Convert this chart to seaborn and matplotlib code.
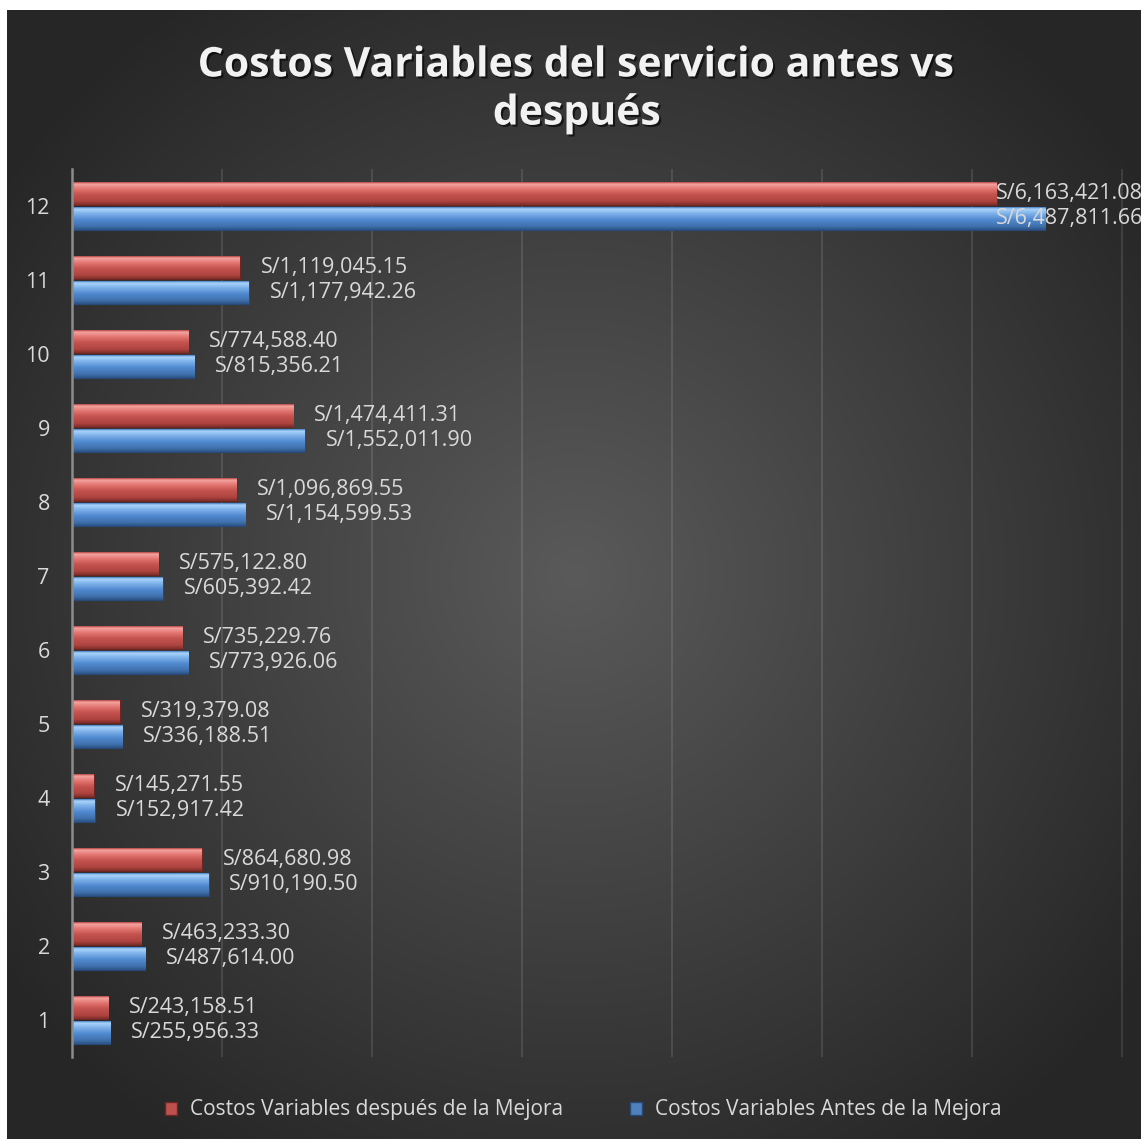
import numpy as np
import pandas as pd
import matplotlib
matplotlib.use("Agg")
import matplotlib.pyplot as plt
import matplotlib.patheffects as pe
from matplotlib.patches import Patch
from matplotlib.colors import LinearSegmentedColormap
import seaborn as sns

# ---------------- data ----------------
categories = ["1", "2", "3", "4", "5", "6", "7", "8", "9", "10", "11", "12"]
despues = [243158.51, 463233.30, 864680.98, 145271.55, 319379.08, 735229.76,
           575122.80, 1096869.55, 1474411.31, 774588.40, 1119045.15, 6163421.08]
antes = [255956.33, 487614.00, 910190.50, 152917.42, 336188.51, 773926.06,
         605392.42, 1154599.53, 1552011.90, 815356.21, 1177942.26, 6487811.66]
series_names = ["Costos Variables después de la Mejora",
                "Costos Variables Antes de la Mejora"]
title = "Costos Variables del servicio antes vs\ndespués"

RED = "#c0504d"
BLUE = "#4f81bd"
TXT = "#d9d9d9"

plt.rcParams['font.family'] = ['Open Sans', 'DejaVu Sans']

W, H = 1141, 1139
fig = plt.figure(figsize=(W / 100, H / 100), dpi=100)
fig.patch.set_facecolor('white')

# ---------------- radial background ----------------
bg_left, bg_top = 7, 10
bw, bh = W - bg_left, H - bg_top
bg_ax = fig.add_axes([bg_left / W, 0, bw / W, bh / H])
bg_ax.set_axis_off()
yy, xx = np.mgrid[0:bh, 0:bw]
r = np.hypot(xx - bw / 2, yy - bh / 2)
t = np.clip(1 - r / 700, 0, 1)
edge = np.array([0x26] * 3) / 255
center = np.array([0x5a] * 3) / 255
img = edge + (center - edge) * t[..., None]
bg_ax.imshow(img, aspect='auto', interpolation='bilinear')

# ---------------- main axes ----------------
ax = fig.add_axes([72 / W, 82 / H, (W - 72) / W, (1057 - 169) / H])
ax.patch.set_alpha(0)

df = pd.DataFrame({
    "cat": categories * 2,
    "value": despues + antes,
    "serie": [series_names[0]] * len(categories) + [series_names[1]] * len(categories),
})
order = categories[::-1]
sns.barplot(data=df, y="cat", x="value", hue="serie", order=order,
            hue_order=series_names, palette=[RED, BLUE], orient="h",
            width=0.66, gap=0.06, saturation=1, errorbar=None,
            legend=False, ax=ax)

red_cmap = LinearSegmentedColormap.from_list(
    "r", [(0, "#b54744"), (0.08, "#f5a3a0"), (0.3, "#e27470"),
          (0.55, "#c4524e"), (0.85, "#ad433f"), (1, "#7e2d2a")])
blue_cmap = LinearSegmentedColormap.from_list(
    "b", [(0, "#4a7fc0"), (0.08, "#aad3fb"), (0.3, "#79aee8"),
          (0.55, "#5189d0"), (0.85, "#3f70ad"), (1, "#2c5283")])
grad = np.linspace(0, 1, 64).reshape(-1, 1)
for cont, cmap, ec in zip(ax.containers, [red_cmap, blue_cmap], ["#6e2624", "#274a78"]):
    for p in cont.patches:
        x0, y0, w, h = p.get_x(), p.get_y(), p.get_width(), p.get_height()
        p.set_edgecolor(ec)
        p.set_linewidth(0.8)
        im = ax.imshow(grad, cmap=cmap, extent=(x0, x0 + w, y0 + h, y0),
                       origin='upper', aspect='auto', zorder=p.get_zorder() + 0.1,
                       interpolation='bilinear')
        im.set_clip_path(p)

ax.set_xlim(0, (W - 72) / 150 * 1e6)
ax.set_ylim(len(categories) - 0.5, -0.5)
ax.set_xticks(np.arange(1e6, 7.5e6, 1e6))
ax.set_xticklabels([])
ax.tick_params(axis='x', length=0)
ax.tick_params(axis='y', length=0, pad=16, labelsize=15.5, labelcolor=TXT)
ax.xaxis.grid(True, color='white', alpha=0.11, lw=1.5)
ax.yaxis.grid(False)
ax.set_axisbelow(True)
ax.set_xlabel("")
ax.set_ylabel("")
for s in ["top", "right", "bottom"]:
    ax.spines[s].set_visible(False)
ax.spines["left"].set_color("#8c8c8c")
ax.spines["left"].set_linewidth(1.8)
ax.spines["left"].set_zorder(5)

labels = []
for cont in ax.containers:
    labels += ax.bar_label(cont, fmt=lambda v: f"S/{v:,.2f}", padding=15,
                           color=TXT, fontsize=15.5)

fig.canvas.draw()
for t_ in labels:
    bb = t_.get_window_extent()
    if bb.x1 > W + 2:
        dx = (bb.x1 - (W + 2)) * 72 / 100
        x_, y_ = t_.xyann
        t_.xyann = (x_ - dx, y_)

# ---------------- title ----------------
fig.text(577 / W, 1 - 90 / H, title, ha='center', va='center', fontsize=29.5,
         fontweight='bold', color='#f2f2f2', linespacing=1.23,
         path_effects=[pe.SimplePatchShadow(offset=(1.5, -1.5), shadow_rgbFace='black', alpha=0.6),
                       pe.Normal()])

# ---------------- legend ----------------
handles = [Patch(facecolor=RED, edgecolor="#6e2624"), Patch(facecolor=BLUE, edgecolor="#274a78")]
fig.legend(handles, series_names, loc='center', bbox_to_anchor=(583 / W, 29 / H), ncol=2,
           frameon=False, fontsize=15, labelcolor=TXT, handlelength=0.6,
           handleheight=0.6, handletextpad=0.6, columnspacing=3.2)

fig.savefig("out.png", dpi=100, facecolor=fig.get_facecolor())
